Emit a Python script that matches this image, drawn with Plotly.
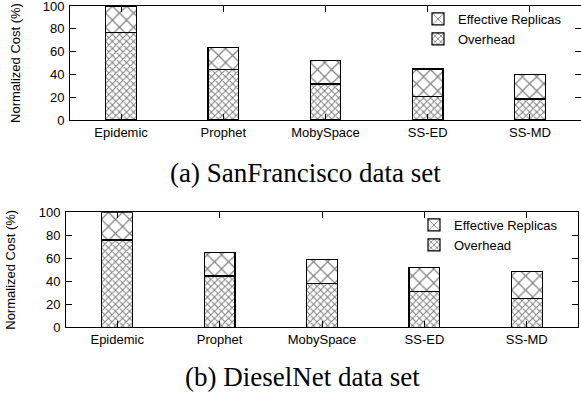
import plotly.graph_objects as go
from plotly.subplots import make_subplots

categories = ["Epidemic", "Prophet", "MobySpace", "SS-ED", "SS-MD"]
sf_total = [100, 63.5, 52, 44.7, 40.2]
sf_overhead = [77, 44, 31.5, 20.5, 18.5]
dn_total = [100, 65.2, 59.2, 52.2, 48.4]
dn_overhead = [76, 44.6, 38.3, 31, 25.2]
sf_effective = [t - o for t, o in zip(sf_total, sf_overhead)]
dn_effective = [t - o for t, o in zip(dn_total, dn_overhead)]
yticks = [0, 20, 40, 60, 80, 100]
captions = ["(a) SanFrancisco data set", "(b) DieselNet data set"]

W, H = 581, 399
fig = make_subplots(rows=2, cols=1)

sans = "Liberation Sans, Arial, sans-serif"
serif = "Liberation Serif, Times New Roman, serif"

def add_set(row, overhead, effective, legend):
    fig.add_trace(go.Bar(
        x=categories, y=overhead, name="Overhead", legend=legend,
        width=0.3,
        marker=dict(color="white", line=dict(color="black", width=1.2),
                    pattern=dict(shape="x", size=5, solidity=0.38,
                                 fgcolor="black", bgcolor="white", fillmode="overlay")),
    ), row=row, col=1)
    fig.add_trace(go.Bar(
        x=categories, y=effective, name="Effective Replicas", legend=legend,
        width=0.3,
        marker=dict(color="white", line=dict(color="black", width=1.2),
                    pattern=dict(shape="x", size=10, solidity=0.22,
                                 fgcolor="black", bgcolor="white", fillmode="overlay")),
    ), row=row, col=1)

add_set(1, sf_overhead, sf_effective, "legend")
add_set(2, dn_overhead, dn_effective, "legend2")

axis_common = dict(showline=True, linecolor="black", linewidth=1, mirror="ticks",
                   ticks="inside", ticklen=6, tickcolor="black",
                   showgrid=False, zeroline=False, automargin=False,
                   ticklabeloverflow="allow",
                   tickfont=dict(family=sans, size=13, color="black"))

fig.update_layout(
    width=W, height=H, barmode="stack",
    margin=dict(l=0, r=0, t=0, b=0, autoexpand=False),
    paper_bgcolor="white", plot_bgcolor="white",
    font=dict(family=sans, size=13, color="black"),
    xaxis=dict(domain=[70 / W, 1.0], range=[-0.5, 4.5], **axis_common),
    yaxis=dict(domain=[(H - 120) / H, (H - 6) / H], range=[0, 100], tickvals=yticks,
               ticklabelstandoff=2,
               title=dict(text="Normalized Cost (%)", standoff=19,
                          font=dict(family=sans, size=13)),
               **axis_common),
    xaxis2=dict(domain=[66 / W, 578 / W], range=[-0.5, 4.5], **axis_common),
    yaxis2=dict(domain=[(H - 327.3) / H, (H - 212.3) / H], range=[0, 100], tickvals=yticks,
                ticklabelstandoff=2,
                title=dict(text="Normalized Cost (%)", standoff=20,
                           font=dict(family=sans, size=13)),
                **axis_common),
    legend=dict(x=418 / W, xanchor="left", y=(H - 4) / H, yanchor="top",
                bgcolor="rgba(0,0,0,0)", font=dict(family=sans, size=13),
                tracegroupgap=0, itemwidth=30),
    legend2=dict(x=414 / W, xanchor="left", y=(H - 210) / H, yanchor="top",
                 bgcolor="rgba(0,0,0,0)", font=dict(family=sans, size=13),
                 tracegroupgap=0, itemwidth=30),
    showlegend=True,
    annotations=[
        dict(text=captions[0], x=305 / W, y=(H - 173) / H, xref="paper", yref="paper",
             showarrow=False, xanchor="center", yanchor="middle",
             font=dict(family=serif, size=27, color="black")),
        dict(text=captions[1], x=303 / W, y=(H - 377) / H, xref="paper", yref="paper",
             showarrow=False, xanchor="center", yanchor="middle",
             font=dict(family=serif, size=27, color="black")),
    ],
)

fig.write_html("out.html", config={"displayModeBar": False},
               post_script="document.body.style.margin='0';")
